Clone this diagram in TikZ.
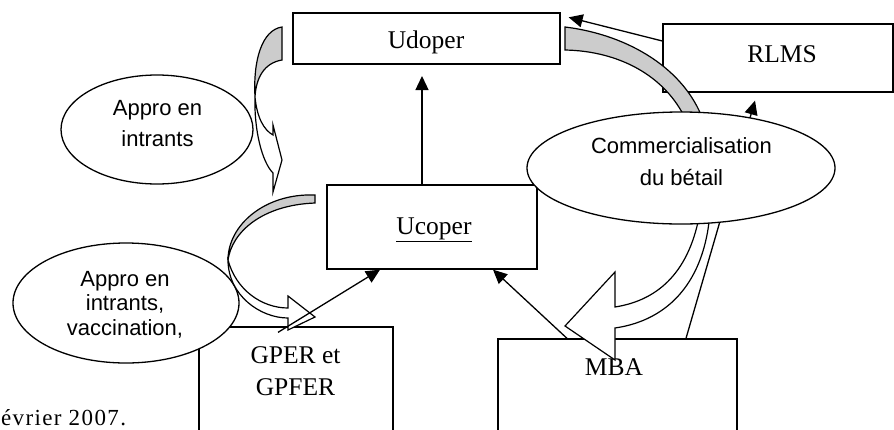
\documentclass[tikz,border=0pt]{standalone}
\usepackage{fontspec}
\setmainfont{Liberation Serif}
\setsansfont{Liberation Sans}
\usetikzlibrary{arrows.meta,shapes.geometric,calc}
\begin{document}
\begin{tikzpicture}[x=1pt,y=-1pt,line width=1.2pt,
  box/.style={draw,fill=white,rectangle,inner sep=0pt,line width=1.3pt},
  bubble/.style={draw,fill=white,ellipse,inner sep=0pt,line width=1.3pt},
  lbl/.style={inner sep=0pt,anchor=base,font=\fontsize{25.5}{30}\selectfont},
  slbl/.style={inner sep=0pt,anchor=base,font=\sffamily\fontsize{22}{26}\selectfont},
  arr/.style={-{Triangle[length=14pt,width=13pt]},line width=1.3pt},
  ribbon/.style={draw,line width=1.2pt,line join=miter}]
\clip (0,0) rectangle (894,429);
\fill[white] (0,0) rectangle (894,429);

% boxes
\node[box,minimum width=267pt,minimum height=51pt] (udoper) at (426.5,38.5) {};
\node[box,minimum width=210pt,minimum height=84pt] (ucoper) at (432,227) {};
\node[box,minimum width=230pt,minimum height=68pt] (rlms) at (778,58) {};
\node[box,minimum width=194pt,minimum height=133pt] (gper) at (296,393.5) {};
\node[box,minimum width=239pt,minimum height=131pt] (mba) at (617.5,404.5) {};
\node[lbl] (udopertext) at (426,48) {Udoper};
\node[lbl] (ucopertext) at (434,234) {\underline{Ucoper}};
\node[lbl] (rlmstext) at (782,62) {RLMS};
\node[lbl] (gpertext1) at (295.5,363) {GPER et};
\node[lbl] (gpertext2) at (295.5,395) {GPFER};
\node[lbl] (mbatext) at (614,375) {MBA};

% straight connector hidden behind the ellipse
\coordinate (t4) at ($(rlms.south)+(-23,8)$);
\draw[arr] (686,0 |- mba.north) -- (t4);

% big curved arrow (right)
\path[ribbon,fill=black!20] (565,27) .. controls (630,35) and (685,70) .. (703,120)
  -- (686,120) .. controls (665,75) and (618,51) .. (565,50) -- cycle;
\path[ribbon,fill=white] (700,212) .. controls (690,270) and (660,300) .. (615,307)
  -- (615,272) -- (565,326) -- (615,360) -- (615,328)
  .. controls (670,320) and (705,280) .. (710,212) -- cycle;

% top-left curved arrow
\path[ribbon,fill=black!20] (282,27) .. controls (262,30) and (253,60) .. (255,97)
  .. controls (256,78) and (264,63) .. (282,60) -- cycle;
\path[ribbon,fill=white] (255,97) .. controls (254,130) and (262,162) .. (273,173)
  -- (273,192) -- (282,160) -- (273,125) -- (273,135)
  .. controls (264,130) and (257,118) .. (255,97) -- cycle;

% ellipses
\node[bubble,minimum width=192pt,minimum height=109pt] (appro1) at (157,129.5) {};
\node[bubble,minimum width=226pt,minimum height=120pt] (appro2) at (126,303) {};
\node[bubble,minimum width=308pt,minimum height=112pt] (comm) at (681,168) {};
\node[slbl] (appro1a) at (157.5,115) {Appro en};
\node[slbl] (appro1b) at (157.5,146.5) {intrants};
\node[slbl] (appro2a) at (125,286) {Appro en};
\node[slbl] (appro2b) at (125,310) {intrants,};
\node[slbl] (appro2c) at (125,335) {vaccination,};
\node[slbl] (comma) at (681.5,153.5) {Commercialisation};
\node[slbl] (commb) at (681.5,185) {du bétail};

% second curved arrow (Ucoper -> GPER)
\path[ribbon,fill=black!20] (315,195) .. controls (265,193) and (228,225) .. (228,260)
  .. controls (232,232) and (262,205) .. (315,203) -- cycle;
\path[ribbon,fill=white] (228,260) .. controls (228,295) and (260,318) .. (288,318)
  -- (288,330) -- (315,317) -- (288,296) -- (288,308)
  .. controls (262,308) and (236,290) .. (228,260) -- cycle;

% straight connectors
\coordinate (t1) at (422,76);
\draw[arr] (422,0 |- ucoper.north) -- (t1);
\draw[arr] ($(gper.north)+(-18,6)$) -- (380,0 |- ucoper.south);
\draw[arr] (567,0 |- mba.north) -- (493,0 |- ucoper.south);
\draw[arr] ($(rlms.west)+(0,-17)$) -- ($(udoper.north east)+(8,5)$);

% date
\node[inner sep=0pt,anchor=base west,font=\fontsize{23}{26}\selectfont\addfontfeature{LetterSpace=6}] (date) at (0.5,425) {évrier 2007.};
\end{tikzpicture}
\end{document}
